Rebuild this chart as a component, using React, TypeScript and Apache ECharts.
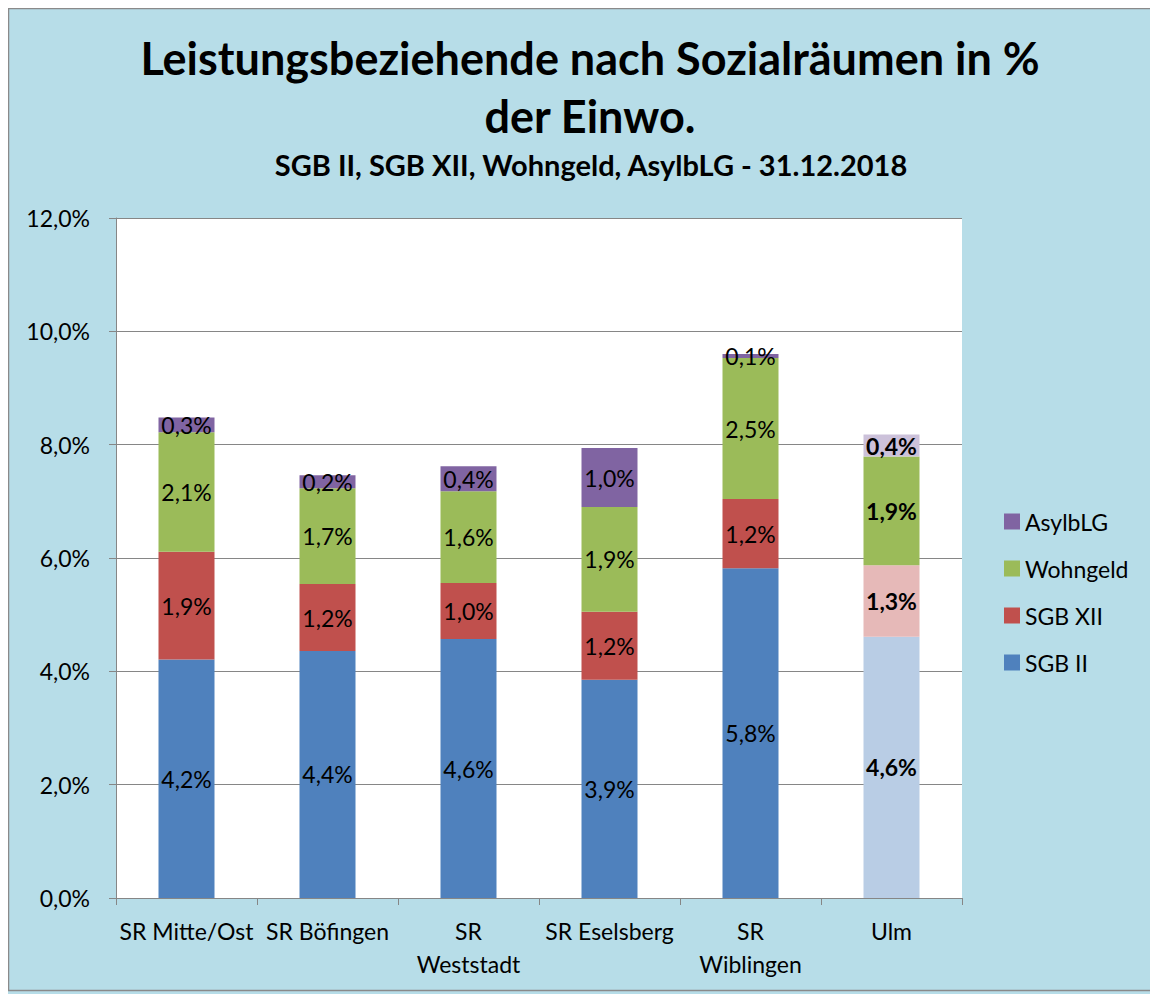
import React, { useEffect, useRef } from "react";
import * as echarts from "echarts";

const categories = ["SR Mitte/Ost", "SR Böfingen", "SR\nWeststadt", "SR Eselsberg", "SR\nWiblingen", "Ulm"];
const sgbII = [4.21, 4.36, 4.57, 3.85, 5.82, 4.61];
const sgbXII = [1.9, 1.18, 0.99, 1.2, 1.22, 1.26];
const wohngeld = [2.11, 1.69, 1.62, 1.85, 2.49, 1.92];
const asylbLG = [0.26, 0.23, 0.44, 1.04, 0.07, 0.39];
const yTicks = [0, 2, 4, 6, 8, 10, 12];

const FONT = "Lato, 'Open Sans', sans-serif";
const fmt = (v: number) => v.toFixed(1).replace(".", ",") + "%";

const seriesDefs = [
  { name: "SGB II", data: sgbII, color: "#4f81bd", light: "#b9cde5" },
  { name: "SGB XII", data: sgbXII, color: "#c0504d", light: "#e6b9b8" },
  { name: "Wohngeld", data: wohngeld, color: "#9bbb59", light: "#9bbb59" },
  { name: "AsylbLG", data: asylbLG, color: "#8064a2", light: "#ccc1da" },
];

export default function App() {
  const ref = useRef<HTMLDivElement>(null);
  useEffect(() => {
    if (!ref.current) return;
    const chart = echarts.init(ref.current, undefined, { renderer: "svg" });
    const last = categories.length - 1;
    chart.setOption({
      animation: false,
      backgroundColor: "#b7dde8",
      graphic: [
        {
          type: "rect",
          shape: { x: 0.5, y: 0.5, width: 1145, height: 982 },
          style: { fill: "none", stroke: "#8a8a8a", lineWidth: 1.5 },
          silent: true,
        },
      ],
      title: [
        {
          text: "Leistungsbeziehende nach Sozialräumen in %\nder Einwo.",
          left: 577,
          top: 16,
          textAlign: "center",
          textStyle: { fontFamily: FONT, fontSize: 45, fontWeight: "bold", color: "#000", lineHeight: 58 },
        },
        {
          text: "SGB II, SGB XII, Wohngeld, AsylbLG - 31.12.2018",
          left: 578,
          top: 135,
          textAlign: "center",
          textStyle: { fontFamily: FONT, fontSize: 29, fontWeight: "bold", color: "#000", lineHeight: 32 },
        },
      ],
      legend: {
        orient: "vertical",
        left: 991,
        top: 497,
        itemWidth: 16,
        itemHeight: 16,
        itemGap: 24,
        icon: "rect",
        data: ["AsylbLG", "Wohngeld", "SGB XII", "SGB II"],
        textStyle: { fontFamily: FONT, fontSize: 23, color: "#000", lineHeight: 23 },
      },
      grid: { left: 108, right: 196, top: 210, bottom: 96, backgroundColor: "#fff", show: true, borderWidth: 0 },
      xAxis: {
        type: "category",
        data: categories,
        axisLine: { lineStyle: { color: "#868686", width: 1 } },
        axisTick: { show: true, length: 7, alignWithLabel: false, lineStyle: { color: "#868686" } },
        axisLabel: {
          fontFamily: FONT,
          fontSize: 23,
          color: "#000",
          lineHeight: 33,
          margin: 16,
          interval: 0,
        },
      },
      yAxis: {
        type: "value",
        min: yTicks[0],
        max: yTicks[yTicks.length - 1],
        interval: 2,
        axisLine: { show: true, lineStyle: { color: "#868686", width: 1 } },
        axisTick: { show: true, length: 7, lineStyle: { color: "#868686" } },
        splitLine: { lineStyle: { color: "#868686", width: 1 } },
        axisLabel: { fontFamily: FONT, fontSize: 23, color: "#000", margin: 26, formatter: (v: number) => fmt(v) },
      },
      series: seriesDefs.map((s) => ({
        name: s.name,
        type: "bar",
        stack: "total",
        barWidth: 56,
        itemStyle: { color: s.color },
        label: {
          show: true,
          position: "inside",
          fontFamily: FONT,
          fontSize: 23,
          color: "#000",
          formatter: (p: any) => fmt(p.value),
        },
        data: s.data.map((v, i) =>
          i === last
            ? { value: v, itemStyle: { color: s.light }, label: { fontWeight: "bold" } }
            : v
        ),
      })),
    });
    return () => chart.dispose();
  }, []);
  return <div ref={ref} style={{ width: 1150, height: 986 }} />;
}
